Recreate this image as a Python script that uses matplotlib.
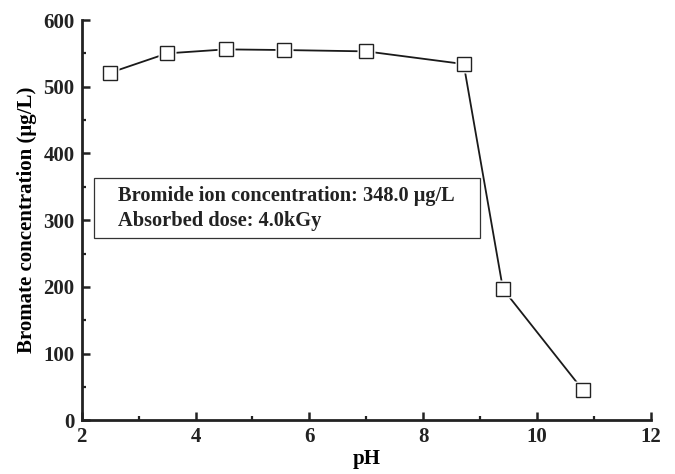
import matplotlib
matplotlib.use("Agg")
from matplotlib import pyplot as plt
from matplotlib.ticker import MultipleLocator

# dados
ph = [2.5, 3.5, 4.53, 5.56, 7.0, 8.71, 9.4, 10.8]
bromato = [521, 550, 556, 555, 553, 534, 197, 46]

plt.rcParams['font.family'] = ['Liberation Serif', 'DejaVu Serif']
plt.rcParams['font.weight'] = 'bold'

fig = plt.figure(figsize=(6.75, 4.74), dpi=100)
ax = fig.add_axes([0.121, 0.1129, 0.8434, 0.8449])

# linha, depois um quadrado branco maior (deixa o espaco em volta) e o marcador
ax.plot(ph, bromato, color='#1a1a1a', lw=1.3, zorder=2)
ax.plot(ph, bromato, ls='none', marker='s', ms=13, mfc='white', mec='none', zorder=3)
ax.plot(ph, bromato, ls='none', marker='s', ms=9.8,
        mfc='white', mec='#222222', mew=1.0, zorder=4)

ax.set_xlim(2, 12)
ax.set_ylim(0, 600)
ax.xaxis.set_major_locator(MultipleLocator(2))
ax.xaxis.set_minor_locator(MultipleLocator(1))
ax.yaxis.set_major_locator(MultipleLocator(100))
ax.yaxis.set_minor_locator(MultipleLocator(50))

for lado in ['top', 'right']:
    ax.spines[lado].set_visible(False)
for lado in ['left', 'bottom']:
    ax.spines[lado].set_linewidth(2.0)
    ax.spines[lado].set_color('#222222')

ax.tick_params(which='major', direction='in', length=6, width=1.8,
               labelsize=15, colors='#222222', pad=5)
ax.tick_params(which='minor', direction='in', length=3.2, width=1.6, colors='#222222')
for lab in ax.get_xticklabels() + ax.get_yticklabels():
    lab.set_fontweight('bold')

ax.set_xlabel('pH', fontsize=15, fontweight='bold', labelpad=1)
ax.set_ylabel('Bromate concentration (\u03bcg/L)', fontsize=15, fontweight='bold', labelpad=5)

# caixa de texto
caixa = plt.Rectangle((94.3 / 675, 1 - 237.7 / 474), (480 - 94.3) / 675, (237.7 - 177.7) / 474,
                      transform=fig.transFigure, fill=False, lw=0.9, ec='#333333')
fig.add_artist(caixa)
fig.text(118 / 675, 1 - 196 / 474, 'Bromide ion concentration: 348.0 \u03bcg/L',
         fontsize=14.7, fontweight='bold', va='center', ha='left', color='#222222')
fig.text(118 / 675, 1 - 221 / 474, 'Absorbed dose: 4.0kGy',
         fontsize=14.7, fontweight='bold', va='center', ha='left', color='#222222')

fig.savefig('out.png', dpi=100)
